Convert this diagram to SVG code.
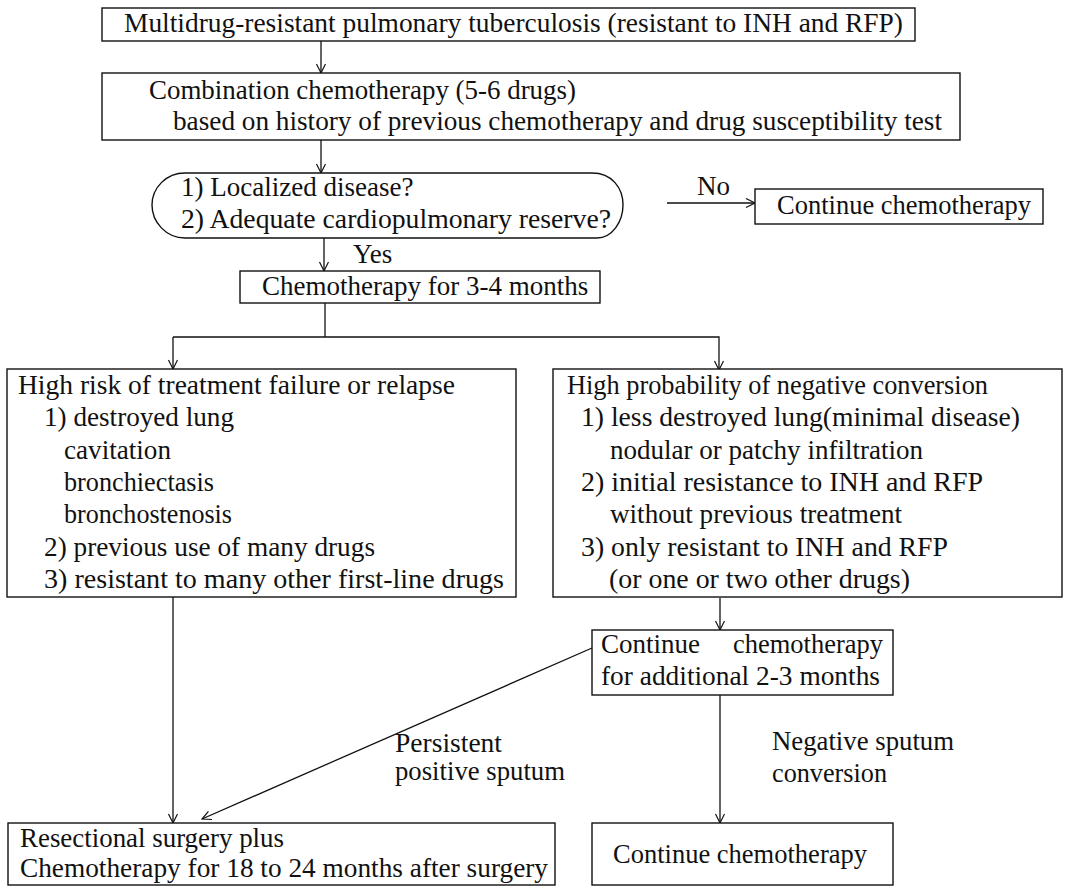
<svg xmlns="http://www.w3.org/2000/svg" width="1065" height="887" viewBox="0 0 1065 887">
<defs>
<marker id="arr" markerWidth="12" markerHeight="12" refX="10" refY="5" orient="auto" markerUnits="userSpaceOnUse"><path d="M1,0.5 L10,5 L1,9.5" fill="none" stroke="#111" stroke-width="1.2"/></marker>
</defs>
<style>
.box{fill:#fff;stroke:#111;stroke-width:1.4}
.t{font-family:'Liberation Serif','Times New Roman','DejaVu Serif',serif;font-size:27px;fill:#111}
.c{fill:none;stroke:#111;stroke-width:1.3}
</style>
<rect width="1065" height="887" fill="#fff"/>
<g font-family="Liberation Serif, Times New Roman, serif" font-size="27" lengthAdjust="spacingAndGlyphs">
<g id="connectors">
<line class="c" x1="321" y1="41" x2="321" y2="73" marker-end="url(#arr)"/>
<line class="c" x1="321" y1="140" x2="321" y2="173" marker-end="url(#arr)"/>
<line class="c" x1="667" y1="203" x2="755" y2="203" marker-end="url(#arr)"/>
<line class="c" x1="324" y1="238" x2="324" y2="271" marker-end="url(#arr)"/>
<polyline class="c" points="325,303 325,337"/>
<polyline class="c" points="173,337 719,337 719,370" marker-end="url(#arr)"/>
<line class="c" x1="173" y1="337" x2="173" y2="369" marker-end="url(#arr)"/>
<line class="c" x1="173" y1="597" x2="173" y2="823" marker-end="url(#arr)"/>
<line class="c" x1="720" y1="598" x2="720" y2="630" marker-end="url(#arr)"/>
<line class="c" x1="720" y1="695" x2="720" y2="823" marker-end="url(#arr)"/>
<line class="c" x1="592" y1="648" x2="202" y2="819" marker-end="url(#arr)"/>
<text class="t" x="697" y="195">No</text>
<text class="t" x="353" y="263">Yes</text>
<text class="t" x="395" y="752" textLength="107" lengthAdjust="spacingAndGlyphs">Persistent</text>
<text class="t" x="395" y="780" textLength="170" lengthAdjust="spacingAndGlyphs">positive sputum</text>
<text class="t" x="772" y="750" textLength="182" lengthAdjust="spacingAndGlyphs">Negative sputum</text>
<text class="t" x="772" y="782" textLength="115" lengthAdjust="spacingAndGlyphs">conversion</text>
</g>
<g id="n1">
<rect class="box" x="102" y="8" width="813" height="33"/>
<text class="t" x="124" y="32" textLength="779" lengthAdjust="spacingAndGlyphs">Multidrug-resistant pulmonary tuberculosis (resistant to INH and RFP)</text>
</g>
<g id="n2">
<rect class="box" x="102" y="73" width="858" height="67"/>
<text class="t" x="149" y="99" textLength="427" lengthAdjust="spacingAndGlyphs">Combination chemotherapy (5-6 drugs)</text>
<text class="t" x="173" y="130" textLength="769" lengthAdjust="spacingAndGlyphs">based on history of previous chemotherapy and drug susceptibility test</text>
</g>
<g id="n3">
<path class="box" d="M185,173 L592,173 C612,173 623,188 623,205 C623,222 612,238 597,238 L185,238 C166,238 152,222 152,205 C152,188 166,173 185,173 Z"/>
<text class="t" x="181" y="196">1) Localized disease?</text>
<text class="t" x="181" y="228" textLength="430" lengthAdjust="spacingAndGlyphs">2) Adequate cardiopulmonary reserve?</text>
</g>
<g id="n4">
<rect class="box" x="755" y="189" width="288" height="35"/>
<text class="t" x="777" y="214" textLength="254" lengthAdjust="spacingAndGlyphs">Continue chemotherapy</text>
</g>
<g id="n5">
<rect class="box" x="240" y="271" width="360" height="32"/>
<text class="t" x="262" y="295">Chemotherapy for 3-4 months</text>
</g>
<g id="n6">
<rect class="box" x="7" y="369" width="509" height="228"/>
<text class="t" x="18" y="394" textLength="437" lengthAdjust="spacingAndGlyphs">High risk of treatment failure or relapse</text>
<text class="t" x="44" y="426" textLength="190" lengthAdjust="spacingAndGlyphs">1) destroyed lung</text>
<text class="t" x="64" y="459" textLength="107" lengthAdjust="spacingAndGlyphs">cavitation</text>
<text class="t" x="64" y="491" textLength="150" lengthAdjust="spacingAndGlyphs">bronchiectasis</text>
<text class="t" x="64" y="523" textLength="168" lengthAdjust="spacingAndGlyphs">bronchostenosis</text>
<text class="t" x="44" y="556" textLength="331" lengthAdjust="spacingAndGlyphs">2) previous use of many drugs</text>
<text class="t" x="44" y="588" textLength="460" lengthAdjust="spacingAndGlyphs">3) resistant to many other first-line drugs</text>
</g>
<g id="n7">
<rect class="box" x="553" y="369" width="509" height="228"/>
<text class="t" x="567" y="394" textLength="421" lengthAdjust="spacingAndGlyphs">High probability of negative conversion</text>
<text class="t" x="581" y="426" textLength="439" lengthAdjust="spacingAndGlyphs">1) less destroyed lung(minimal disease)</text>
<text class="t" x="610" y="459" textLength="313" lengthAdjust="spacingAndGlyphs">nodular or patchy infiltration</text>
<text class="t" x="581" y="491" textLength="402" lengthAdjust="spacingAndGlyphs">2) initial resistance to INH and RFP</text>
<text class="t" x="610" y="523" textLength="292" lengthAdjust="spacingAndGlyphs">without previous treatment</text>
<text class="t" x="581" y="556" textLength="367" lengthAdjust="spacingAndGlyphs">3) only resistant to INH and RFP</text>
<text class="t" x="609" y="588" textLength="301" lengthAdjust="spacingAndGlyphs">(or one or two other drugs)</text>
</g>
<g id="n8">
<rect class="box" x="592" y="630" width="301" height="65"/>
<text class="t" x="601" y="653">Continue</text>
<text class="t" x="733" y="653" textLength="150" lengthAdjust="spacingAndGlyphs">chemotherapy</text>
<text class="t" x="601" y="685" textLength="279" lengthAdjust="spacingAndGlyphs">for additional 2-3 months</text>
</g>
<g id="n9">
<rect class="box" x="8" y="823" width="547" height="62"/>
<text class="t" x="20" y="847" textLength="264" lengthAdjust="spacingAndGlyphs">Resectional surgery plus</text>
<text class="t" x="20" y="877" textLength="528" lengthAdjust="spacingAndGlyphs">Chemotherapy for 18 to 24 months after surgery</text>
</g>
<g id="n10">
<rect class="box" x="592" y="823" width="301" height="62"/>
<text class="t" x="613" y="863" textLength="254" lengthAdjust="spacingAndGlyphs">Continue chemotherapy</text>
</g>
</g>
</svg>
